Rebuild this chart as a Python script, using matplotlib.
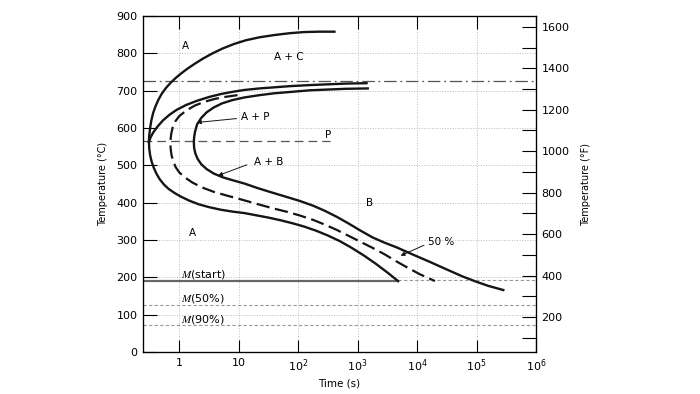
import numpy as np
import matplotlib
matplotlib.use("Agg")
import matplotlib.pyplot as plt

# isothermal transformation (TTT) diagram
# curves are stored as (log10 time [s], temperature [C])

# proeutectoid cementite start, from the nose upward
cem_logt = [-0.51, -0.505, -0.49, -0.47, -0.44, -0.40, -0.35, -0.29, -0.22, -0.14, -0.06, 0.03,
            0.13, 0.25, 0.40, 0.56, 0.73, 0.92, 1.12, 1.35, 1.6, 1.86, 2.1, 2.35, 2.61]
cem_temp = [563, 580, 600, 620, 640, 658, 676, 693, 708, 722, 734, 746,
            758, 771, 786, 800, 813, 825, 835, 843, 849, 854, 857, 858, 858]

# transformation start curve: upper branch (right end -> nose), lower branch (nose -> Ms)
start_up_logt = [3.15, 2.8, 2.5, 2.2, 1.85, 1.6, 1.35, 1.1, 0.9, 0.7, 0.5, 0.3, 0.12,
                 -0.04, -0.16, -0.27, -0.36, -0.43, -0.48, -0.51]
start_up_temp = [720, 719, 717, 715, 712, 709, 706, 702, 697, 691, 683, 673, 662,
                 649, 636, 621, 605, 590, 576, 563]
start_lo_logt = [-0.51, -0.505, -0.49, -0.465, -0.43, -0.385, -0.33, -0.26, -0.18, -0.08, 0.03,
                 0.16, 0.32, 0.5, 0.7, 0.9, 1.1, 1.3, 1.5, 1.7, 1.9, 2.1, 2.3, 2.5, 2.7,
                 2.9, 3.1, 3.3, 3.5, 3.68]
start_lo_temp = [563, 545, 527, 510, 494, 478, 463, 449, 437, 426, 416,
                 406, 396, 388, 381, 376, 372, 366, 360, 353, 345, 336, 325, 312, 297,
                 279, 259, 237, 213, 190]

# 50 % curve (dashed)
half_logt = [0.98, 0.8, 0.6, 0.42, 0.26, 0.12, 0.0, -0.07, -0.11, -0.135, -0.15,
             -0.145, -0.13, -0.10, -0.06, 0.0, 0.1, 0.22, 0.38, 0.58, 0.8, 1.01, 1.3, 1.57,
             1.8, 2.02, 2.25, 2.45, 2.65, 2.85, 3.05, 3.25, 3.45, 3.66, 3.85, 4.05, 4.30]
half_temp = [688, 684, 678, 670, 660, 647, 632, 617, 602, 585, 563,
             545, 527, 510, 495, 481, 467, 454, 441, 429, 419, 410, 397, 385,
             376, 366, 354, 341, 327, 311, 295, 279, 262, 242, 225, 208, 190]

# transformation finish curve
fin_logt = [3.17, 2.8, 2.5, 2.2, 1.9, 1.6, 1.35, 1.1, 0.9, 0.72, 0.58, 0.46, 0.37, 0.3,
            0.265, 0.25, 0.245, 0.25, 0.27, 0.31, 0.37, 0.46, 0.58, 0.73, 0.9, 1.1, 1.3,
            1.5, 1.75, 2.02, 2.25, 2.45, 2.65, 2.85, 3.05, 3.25, 3.45, 3.66, 3.9, 4.22,
            4.5, 4.77, 5.0, 5.2, 5.45]
fin_temp = [706, 705, 703, 701, 697, 693, 688, 682, 675, 666, 655, 642, 627, 610,
            590, 575, 563, 547, 532, 517, 503, 490, 478, 468, 460, 451, 440,
            430, 418, 405, 392, 378, 362, 344, 325, 307, 293, 280, 263, 241,
            221, 202, 188, 177, 166]

# horizontal reference lines
eutectoid_temp = 727
p_line_temp = 565
p_line_end_logt = 2.53
ms_temp = 190
ms_end_logt = 3.68
m50_temp = 125
m90_temp = 72

x_ticks = [1, 10, 1e2, 1e3, 1e4, 1e5, 1e6]
x_ticklabels = ["1", "10", "$10^2$", "$10^3$", "$10^4$", "$10^5$", "$10^6$"]
y_ticks = list(range(0, 1000, 100))
f_ticks = list(range(100, 1700, 100))

t_min, t_max = 10 ** -0.61, 1e6


def tt(logt):
    return 10 ** np.array(logt)


plt.rcParams["font.family"] = ["DejaVu Sans"]
ink = "#151515"

fig = plt.figure(figsize=(7, 3.94), dpi=100)
ax = fig.add_axes([143 / 700, 42 / 394, 393 / 700, 336 / 394])
ax.set_xscale("log")
ax.set_xlim(t_min, t_max)
ax.set_ylim(0, 900)

# light dotted grid
ax.grid(True, which="major", color="#bdbdbd", linestyle=":", linewidth=0.7)

# reference lines
ax.axhline(eutectoid_temp, color="#555555", linestyle="-.", linewidth=0.9, dashes=(10, 3, 1.5, 3))
ax.plot([t_min, 10 ** p_line_end_logt], [p_line_temp, p_line_temp], color="#555555",
        linestyle=(0, (7, 4)), linewidth=0.9)
ax.plot([t_min, 10 ** ms_end_logt], [ms_temp, ms_temp], color="#666666", linewidth=1.6)
ax.plot([10 ** ms_end_logt, t_max], [ms_temp + 2, ms_temp + 2], color="#999999",
        linestyle=(0, (3, 2)), linewidth=0.8)
ax.axhline(m50_temp, color="#999999", linestyle=(0, (3, 2)), linewidth=0.8)
ax.axhline(m90_temp, color="#999999", linestyle=(0, (3, 2)), linewidth=0.8)

# curves
ax.plot(tt(cem_logt), cem_temp, color=ink, lw=1.7)
ax.plot(tt(start_up_logt), start_up_temp, color=ink, lw=1.7)
ax.plot(tt(start_lo_logt), start_lo_temp, color=ink, lw=1.7)
ax.plot(tt(half_logt), half_temp, color=ink, lw=1.6, linestyle=(0, (6, 2.5)))
ax.plot(tt(fin_logt), fin_temp, color=ink, lw=1.7)

# region labels
fs = 7.5
ax.text(10 ** 0.10, 820, "A", fontsize=fs, ha="center", va="center")
ax.text(10 ** 1.85, 790, "A + C", fontsize=fs, ha="center", va="center")
ax.text(10 ** 1.04, 630, "A + P", fontsize=fs, ha="left", va="center")
ax.text(10 ** 2.5, 581, "P", fontsize=fs, ha="center", va="center")
ax.text(10 ** 1.26, 510, "A + B", fontsize=fs, ha="left", va="center")
ax.text(10 ** 3.2, 399, "B", fontsize=fs, ha="center", va="center")
ax.text(10 ** 0.22, 318, "A", fontsize=fs, ha="center", va="center")
ax.text(10 ** 4.18, 295, "50 %", fontsize=fs, ha="left", va="center")

arrow = dict(arrowstyle="-|>", color=ink, lw=0.7, mutation_scale=6)
ax.annotate("", xy=(10 ** 0.25, 614), xytext=(10 ** 1.01, 626), arrowprops=arrow)
ax.annotate("", xy=(10 ** 0.61, 470), xytext=(10 ** 1.18, 504), arrowprops=arrow)
ax.annotate("", xy=(10 ** 3.68, 255), xytext=(10 ** 4.16, 289), arrowprops=arrow)

for label, y in [("(start)", 207), ("(50%)", 142), ("(90%)", 88)]:
    ax.text(10 ** 0.03, y, r"$\mathbf{\mathit{M}}$" + label, fontsize=8, ha="left",
            va="center", math_fontfamily="stix")

# axes, ticks
ax.set_xticks(x_ticks)
ax.set_xticklabels(x_ticklabels)
ax.minorticks_off()
ax.set_yticks(y_ticks)
ax.tick_params(axis="both", which="both", direction="in", length=9, width=0.8,
               labelsize=8, top=True, pad=4)
ax.tick_params(axis="y", length=10)
ax.set_xlabel("Time (s)", fontsize=7.5, labelpad=3)
ax.set_ylabel("Temperature (\u00b0C)", fontsize=7, labelpad=6)
for s in ax.spines.values():
    s.set_linewidth(0.9)

axf = ax.twinx()
axf.set_ylim(32, 900 * 1.8 + 32)
axf.set_yticks(f_ticks)
axf.set_yticklabels([str(v) if v % 200 == 0 else "" for v in f_ticks])
axf.tick_params(axis="y", direction="in", length=10, width=0.8, labelsize=8, pad=4)
axf.set_ylabel("Temperature (\u00b0F)", fontsize=7, labelpad=8)

fig.savefig("out.png", dpi=100)
